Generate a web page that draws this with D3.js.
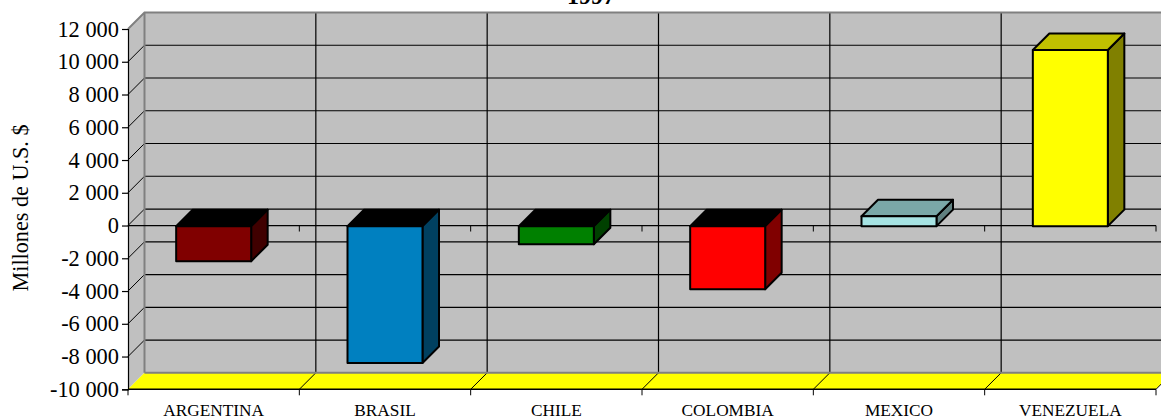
<!DOCTYPE html>
<html><head><meta charset="utf-8">
<script src="https://cdnjs.cloudflare.com/ajax/libs/d3/7.8.5/d3.min.js"></script>
<style>html,body{margin:0;padding:0;background:#fff}svg{display:block}text{font-family:"Liberation Serif",serif;fill:#000}</style>
</head><body><svg id="c" width="1161" height="419"></svg>
<script>
const categories=["ARGENTINA","BRASIL","CHILE","COLOMBIA","MEXICO","VENEZUELA"];
const values=[-2180,-8390,-1140,-3890,570,10720];
const frontColors=["#800000","#0080c0","#008000","#ff0000","#a6e3e3","#ffff00"];
const topColors=["#000000","#000000","#000000","#000000","#7aa8a8","#c0c000"];
const sideColors=["#400000","#004060","#004000","#800000","#608080","#808000"];
const yTicks=[-10000,-8000,-6000,-4000,-2000,0,2000,4000,6000,8000,10000,12000];
const title="1997", yTitle="Millones de U.S. $";
const fmt=v=>(v<0?"-":"")+(Math.abs(v)>=1000?Math.floor(Math.abs(v)/1000)+" "+String(Math.abs(v)%1000).padStart(3,"0"):Math.abs(v));

const svg=d3.select("#c");
const dx=16.5,dy=-16.5;
const y=d3.scaleLinear().domain([-10000,12000]).range([389.3,29]);
const x=d3.scaleBand().domain(categories).range([128,1156]).paddingInner(0).paddingOuter(0);
const bw=75, bandEnds=[128,...categories.map(c=>x(c)+x.bandwidth())];
const poly=p=>p.map(a=>a.join(",")).join(" ");
const x0=128,x1=1156,yB=y(-10000),yT=y(12000);
// walls
svg.append("polygon").attr("points",poly([[x0+dx,yT+dy],[x1+dx,yT+dy],[x1+dx,yB+dy],[x0+dx,yB+dy]])).attr("fill","#c0c0c0");
svg.append("polygon").attr("points",poly([[x0,yT],[x0+dx,yT+dy],[x0+dx,yB+dy],[x0,yB]])).attr("fill","#c0c0c0");
svg.append("polygon").attr("points",poly([[x0,yB],[x0+dx,yB+dy],[x1+dx,yB+dy],[x1,yB]])).attr("fill","#ffff00");
// grid
yTicks.filter(t=>t>-10000&&t<12000).forEach(t=>{
  svg.append("line").attr("x1",x0+dx).attr("x2",x1+dx).attr("y1",y(t)+dy).attr("y2",y(t)+dy).attr("stroke","#000").attr("stroke-width",1.2);
  svg.append("line").attr("x1",x0).attr("x2",x0+dx).attr("y1",y(t)).attr("y2",y(t)+dy).attr("stroke","#000");
});
bandEnds.slice(1).forEach(b=>{
  svg.append("line").attr("x1",b+dx).attr("x2",b+dx).attr("y1",yT+dy).attr("y2",yB+dy).attr("stroke","#000").attr("stroke-width",1.2);
  svg.append("line").attr("x1",b).attr("x2",b+dx).attr("y1",yB).attr("y2",yB+dy).attr("stroke","#000");
});
// wall edges
const edge="#808080";
svg.append("path").attr("d",`M${x0},${yT}L${x0+dx},${yT+dy}L${x1+dx},${yT+dy}M${x0+dx},${yT+dy}V${yB+dy}M${x0+dx},${yB+dy}H${x1+dx}`).attr("fill","none").attr("stroke",edge).attr("stroke-width",2);
// zero plane line
svg.append("line").attr("x1",x0).attr("x2",x1).attr("y1",y(0)).attr("y2",y(0)).attr("stroke","#000").attr("stroke-width",1.2);
bandEnds.slice(1).forEach(b=>svg.append("line").attr("x1",b).attr("x2",b).attr("y1",y(0)).attr("y2",y(0)+6).attr("stroke","#000"));
// bars
categories.forEach((c,i)=>{
  const l=x(c)+(x.bandwidth()-bw)/2,r=l+bw,base=y(0)+0.6,v=y(values[i]);
  const a=values[i]>0?v:base,b=values[i]>0?base:v;
  const g=svg.append("g").attr("stroke","#000").attr("stroke-width",2).attr("stroke-linejoin","round");
  g.append("polygon").attr("points",poly([[r,a],[r+dx,a+dy],[r+dx,b+dy],[r,b]])).attr("fill",sideColors[i]);
  g.append("polygon").attr("points",poly([[l,a],[l+dx,a+dy],[r+dx,a+dy],[r,a]])).attr("fill",topColors[i]);
  g.append("rect").attr("x",l).attr("y",a).attr("width",bw).attr("height",b-a).attr("fill",frontColors[i]);
});
// axes
const gy=svg.append("g").attr("transform",`translate(${x0},0)`).call(d3.axisLeft(y).tickValues(yTicks).tickFormat(fmt).tickSize(6).tickPadding(3));
gy.selectAll("text").attr("font-size",22.4).style("font-family",'"Liberation Serif",serif');
gy.selectAll("path,line").attr("stroke","#000").attr("stroke-width",1.2);
const gx=svg.append("g").attr("transform",`translate(0,${yB})`);
gx.append("line").attr("x1",x0).attr("x2",x1).attr("stroke","#000").attr("stroke-width",1.4);
bandEnds.forEach(b=>gx.append("line").attr("x1",b).attr("x2",b).attr("y2",6).attr("stroke","#000"));
categories.forEach(c=>gx.append("text").attr("x",x(c)+x.bandwidth()/2).attr("y",26.5).attr("text-anchor","middle").attr("font-size",17.3).text(c));
svg.append("text").attr("transform","translate(28,208) rotate(-90)").attr("text-anchor","middle").attr("font-size",22.2).text(yTitle);
svg.append("text").attr("x",591).attr("y",3.5).attr("text-anchor","middle").attr("font-size",24).attr("font-weight","bold").text(title);
</script></body></html>
